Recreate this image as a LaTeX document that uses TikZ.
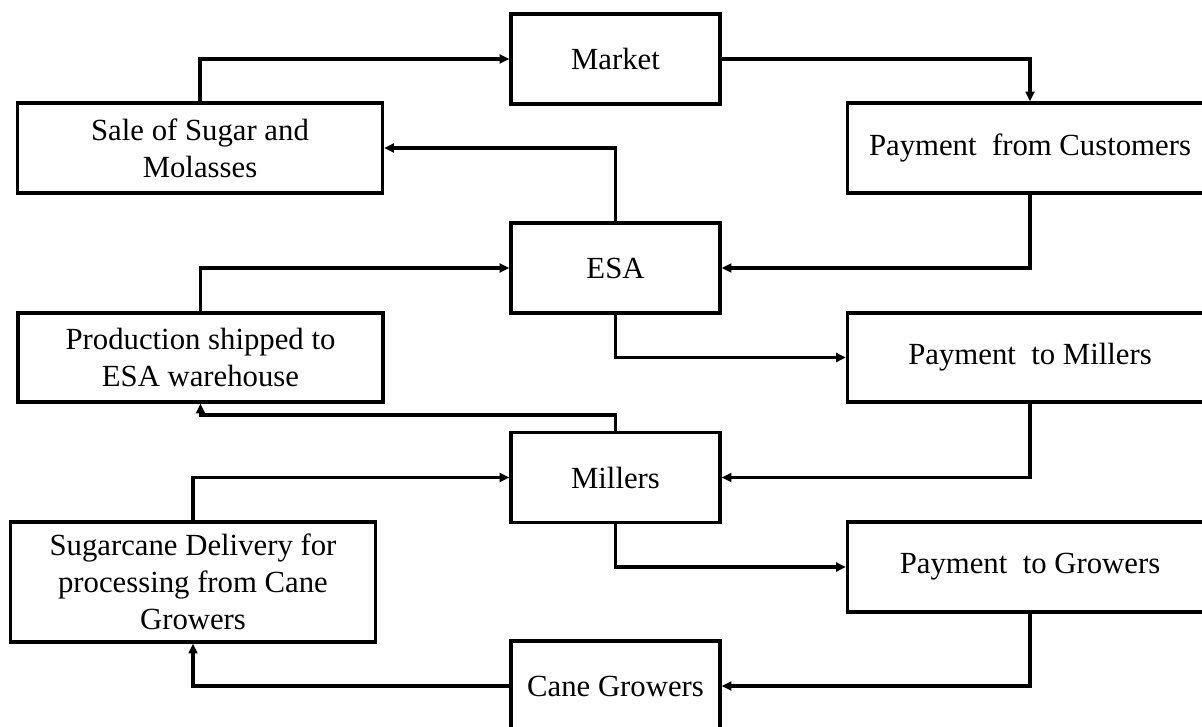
\documentclass[tikz,border=0pt]{standalone}
\usepackage{fontspec}
\setmainfont{Liberation Serif}
\usetikzlibrary{arrows.meta}
\begin{document}
\begin{tikzpicture}[x=0.02cm,y=-0.02cm,
    box/.style={draw,line width=1.9pt,align=center,inner sep=2pt,
      font=\fontsize{17.5}{21}\selectfont},
    midbox/.style={box,minimum width=4.18cm,minimum height=1.8cm},
    sidebox/.style={box,minimum width=7.3cm,minimum height=1.8cm},
    flow/.style={line width=1.9pt,-{Triangle[length=5.5pt,width=5pt]}}]
    \clip (0,0) rectangle (1202,726);
    % centre column
    \node[midbox] (market) at (615.5,59) {Market};
    \node[midbox] (esa) at (615.5,268) {ESA};
    \node[midbox] (millers) at (615.5,477.5) {Millers};
    \node[midbox] (growers) at (615.5,686) {Cane Growers};
    % left column
    \node[sidebox] (sale) at (200,148) {Sale of Sugar and\\Molasses};
    \node[sidebox,minimum height=1.78cm] (shipped) at (200.5,357.5) {Production shipped to\\ESA warehouse};
    \node[sidebox,minimum height=2.4cm] (delivery) at (193,582) {Sugarcane Delivery for\\processing from Cane\\Growers};
    % right column
    \node[sidebox] (customers) at (1030,148) {Payment~~from Customers};
    \node[sidebox,minimum height=1.78cm] (paymillers) at (1030,357.5) {Payment~~to Millers};
    \node[sidebox] (paygrowers) at (1030,567) {Payment~~to Growers};
    % flows
    \draw[flow] (sale.north) |- (market.west);
    \draw[flow] (market.east) -| (customers.north);
    \draw[flow] (esa.north) |- (sale.east);
    \draw[flow] (customers.south) |- (esa.east);
    \draw[flow] (shipped.north) |- (esa.west);
    \draw[flow] (esa.south) |- (paymillers.west);
    \draw[flow] (millers.north) -- ++(0,-16) -| (shipped.south);
    \draw[flow] (paymillers.south) |- (millers.east);
    \draw[flow] (delivery.north) |- (millers.west);
    \draw[flow] (millers.south) |- (paygrowers.west);
    \draw[flow] (paygrowers.south) |- (growers.east);
    \draw[flow] (growers.west) -| (delivery.south);
\end{tikzpicture}
\end{document}
